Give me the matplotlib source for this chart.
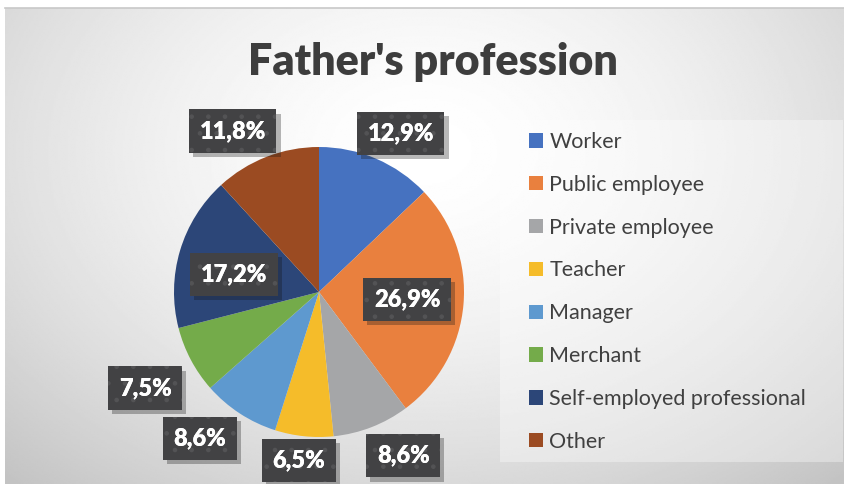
import numpy as np
import matplotlib
matplotlib.use('Agg')
import matplotlib.pyplot as plt
import matplotlib.patheffects as pe
from matplotlib.patches import Rectangle

# data
categories = ['Worker', 'Public employee', 'Private employee', 'Teacher',
              'Manager', 'Merchant', 'Self-employed professional', 'Other']
shares = [12.9, 26.9, 8.6, 6.5, 8.6, 7.5, 17.2, 11.8]
colors = ['#4672C0', '#E9803E', '#A5A6A8', '#F5BC2A',
          '#5E99CF', '#74AB4A', '#2C4678', '#9B4B22']
# radial position of each percentage box (1 = pie edge)
label_r = [1.23, 0.61, 1.27, 1.17, 1.30, 1.37, 0.60, 1.26]
label_dang = [-4, 0, 6, -1, -6, 1, 5, 7]

plt.rcParams['font.family'] = ['Lato', 'DejaVu Sans']
plt.rcParams['hatch.linewidth'] = 0.9

W, H = 844, 484
fig = plt.figure(figsize=(W / 100, H / 100), dpi=100)
fig.patch.set_facecolor('white')

# ── background with soft radial gradient ─────────────────────
bg = fig.add_axes([5 / W, 0, 1 - 5 / W, 1 - 8 / H])
yy, xx = np.mgrid[0:1:300j, 0:1:500j]
d = np.sqrt(((xx - 0.5) / 0.75) ** 2 + ((yy - 0.3) / 0.95) ** 2)
shade = 1.0 - 0.24 * np.clip(d, 0, 1) ** 1.6
bg.imshow(shade, cmap='gray', vmin=0, vmax=1, aspect='auto',
          extent=[0, 1, 1, 0], interpolation='bilinear')
bg.set_xlim(0, 1)
bg.set_ylim(1, 0)
bg.axis('off')
fig.add_artist(plt.Line2D([5 / W, 1], [1 - 8 / H, 1 - 8 / H],
                          color='#c8c8c8', lw=1.2, transform=fig.transFigure))

# legend panel
fig.add_artist(Rectangle((500 / W, 1 - 462 / H), 343 / W, 342 / H,
                         transform=fig.transFigure, facecolor='white',
                         alpha=0.35, linewidth=0))

# ── title ───────────────────────────────────────────────────
fig.text(433 / W, 1 - 62 / H, "Father's profession", ha='center', va='center',
         fontsize=31, fontweight='heavy', color='#3d3d3d')

# ── pie ─────────────────────────────────────────────────────
cx, cy, R = 319, 292, 145
ax = fig.add_axes([(cx - R) / W, (H - cy - R) / H, 2 * R / W, 2 * R / H])
wedges, _ = ax.pie(shares, colors=colors, startangle=90, counterclock=False,
                   wedgeprops=dict(linewidth=0))
ax.set_xlim(-1, 1)
ax.set_ylim(-1, 1)
ax.set_aspect('equal')
ax.axis('off')

for w, val, r, da in zip(wedges, shares, label_r, label_dang):
    ang = np.deg2rad((w.theta1 + w.theta2) / 2 + da)
    x, y = r * np.cos(ang), r * np.sin(ang)
    txt = f'{val:.1f}%'.replace('.', ',')
    kw = dict(ha='center', va='center', fontsize=17, fontweight='heavy',
              color='white', clip_on=False)
    # dark box with drop shadow
    t = ax.text(x, y, txt, zorder=5,
                bbox=dict(boxstyle='square,pad=0.45', facecolor='#424244',
                          linewidth=0), **kw)
    t.get_bbox_patch().set_path_effects(
        [pe.withSimplePatchShadow(offset=(3, -3), alpha=0.3), pe.Normal()])
    # subtle dotted texture on top
    ax.text(x, y, txt, zorder=6,
            bbox=dict(boxstyle='square,pad=0.45', facecolor='none',
                      edgecolor='#535355', linewidth=0, hatch='.'), **kw)

# ── legend ──────────────────────────────────────────────────
leg = fig.legend(wedges, categories, loc='upper left',
                 bbox_to_anchor=(529 / W, 1 - 132 / H), frameon=False,
                 fontsize=15.5, labelcolor='#404040', handlelength=0.65,
                 handleheight=0.65, handletextpad=0.3, labelspacing=1.06,
                 borderpad=0, borderaxespad=0)

fig.savefig('out.png', dpi=100)
